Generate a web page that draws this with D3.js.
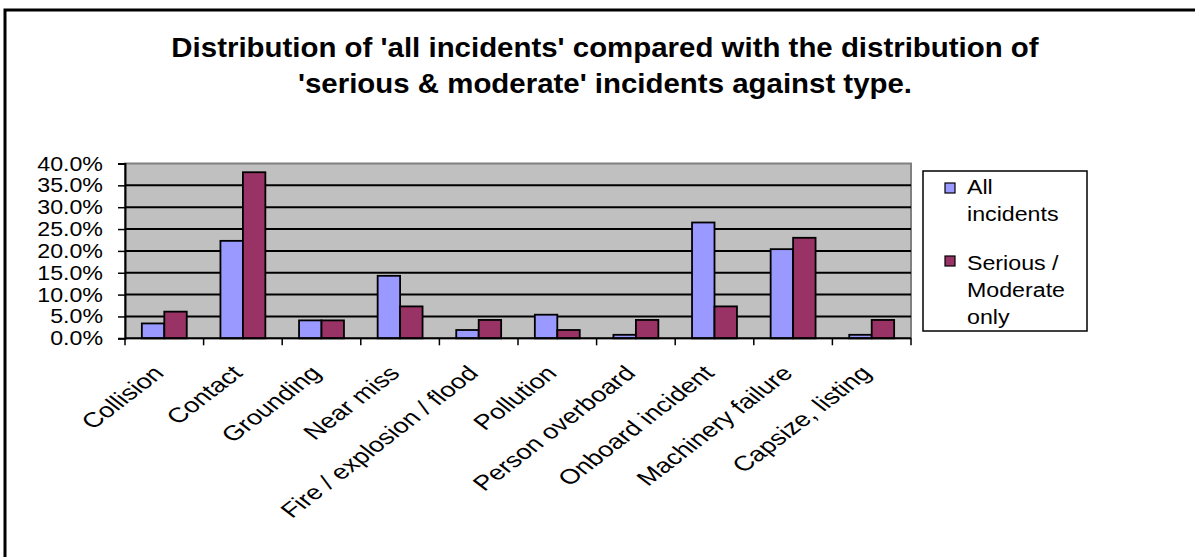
<!DOCTYPE html>
<html>
<head>
<meta charset="utf-8">
<script src="https://cdn.jsdelivr.net/npm/d3@7"></script>
<style>
  html, body { margin: 0; padding: 0; background: #fff; overflow: hidden; }
  text { font-family: "Liberation Sans", Arial, sans-serif; fill: #000; }
</style>
</head>
<body>
<svg id="chart" width="1195" height="557"></svg>
<script>
// ---- data ----
const categories = ["Collision", "Contact", "Grounding", "Near miss", "Fire / explosion / flood",
  "Pollution", "Person overboard", "Onboard incident", "Machinery failure", "Capsize, listing"];
const seriesNames = ["All incidents", "Serious / Moderate only"];
const allIncidents = [3.4, 22.3, 4.1, 14.3, 1.9, 5.4, 0.8, 26.5, 20.4, 0.8];
const seriousModerate = [6.1, 38.0, 4.1, 7.3, 4.2, 1.9, 4.2, 7.3, 23.0, 4.2];
const yTicks = [0, 5, 10, 15, 20, 25, 30, 35, 40];
const titleLines = ["Distribution of 'all incidents' compared with the distribution of",
  "'serious & moderate' incidents against type."];
const legendLines = [["All", "incidents"], ["Serious /", "Moderate", "only"]];
const colors = ["#9999FF", "#993366"];

// ---- layout ----
const svg = d3.select("#chart");
const plot = { left: 125, right: 911, top: 163.5, bottom: 338.3 };
const fmt = d => d3.format(".1f")(d) + "%";

// outer border
svg.append("rect").attr("x", 5).attr("y", 10).attr("width", 1300).attr("height", 700)
  .attr("fill", "none").attr("stroke", "#000").attr("stroke-width", 3);

// title
const tg = svg.append("g").attr("transform", "translate(605,0) scale(1.09,1)");
tg.selectAll("text").data(titleLines).join("text")
  .attr("x", 0).attr("y", (d, i) => 57 + i * 36.5)
  .attr("text-anchor", "middle").attr("font-weight", "bold").attr("font-size", 27)
  .text(d => d);

const x0 = d3.scaleBand().domain(categories).range([plot.left, plot.right]).paddingInner(0).paddingOuter(0);
const x1 = d3.scaleBand().domain(seriesNames).range([0, x0.bandwidth()]).paddingInner(0).paddingOuter(0.75);
const y = d3.scaleLinear().domain([0, 40]).range([plot.bottom, plot.top]);

// plot background
svg.append("rect").attr("x", plot.left).attr("y", plot.top)
  .attr("width", plot.right - plot.left).attr("height", plot.bottom - plot.top)
  .attr("fill", "#C0C0C0").attr("stroke", "#808080").attr("stroke-width", 2);

// gridlines
svg.append("g").selectAll("line").data(yTicks.filter(t => t > 0 && t < 40)).join("line")
  .attr("x1", plot.left).attr("x2", plot.right)
  .attr("y1", d => y(d)).attr("y2", d => y(d))
  .attr("stroke", "#000").attr("stroke-width", 2);

// bars
const rows = categories.map((c, i) => ({ cat: c, vals: [allIncidents[i], seriousModerate[i]] }));
const cg = svg.append("g").selectAll("g").data(rows).join("g")
  .attr("transform", d => `translate(${x0(d.cat)},0)`);
cg.selectAll("rect").data(d => d.vals.map((v, j) => ({ name: seriesNames[j], v, j }))).join("rect")
  .attr("x", d => x1(d.name)).attr("width", x1.bandwidth())
  .attr("y", d => y(d.v)).attr("height", d => y(0) - y(d.v))
  .attr("fill", d => colors[d.j]).attr("stroke", "#000").attr("stroke-width", 1.8);

// y axis
const yAxis = d3.axisLeft(y).tickValues(yTicks).tickSize(7).tickFormat(fmt);
const ya = svg.append("g").attr("transform", `translate(${plot.left},0)`).call(yAxis);
ya.select(".domain").attr("stroke", "#000").attr("stroke-width", 2);
ya.selectAll(".tick line").attr("stroke", "#000").attr("stroke-width", 1.5);
ya.selectAll(".tick text").remove();
svg.append("g").selectAll("g").data(yTicks).join("g")
  .attr("transform", d => `translate(103,${y(d)}) scale(1.19,1)`)
  .append("text").attr("x", 0).attr("y", 0).attr("dy", "0.36em")
  .attr("text-anchor", "end").attr("font-size", 19.5).text(fmt);

// x axis
svg.append("line").attr("x1", plot.left).attr("x2", plot.right)
  .attr("y1", plot.bottom).attr("y2", plot.bottom).attr("stroke", "#000").attr("stroke-width", 2);
const edges = categories.map(c => x0(c)).concat([plot.right]);
svg.append("g").selectAll("line").data(edges).join("line")
  .attr("x1", d => d).attr("x2", d => d).attr("y1", plot.bottom).attr("y2", plot.bottom + 7)
  .attr("stroke", "#000").attr("stroke-width", 1.5);
svg.append("g").selectAll("text").data(categories).join("text")
  .attr("transform", d => `translate(${x0(d) + x0.bandwidth() / 2 + 1},374.5) scale(1.3,1) rotate(-45)`)
  .attr("text-anchor", "end").attr("font-size", 20.9).text(d => d);

// legend
svg.append("rect").attr("x", 923).attr("y", 171).attr("width", 164).attr("height", 160)
  .attr("fill", "#fff").attr("stroke", "#000").attr("stroke-width", 1.5);
const lg = svg.append("g").selectAll("g").data(seriesNames).join("g");
lg.append("rect").attr("x", 945).attr("y", (d, i) => 183 + i * 73).attr("width", 10).attr("height", 10)
  .attr("fill", (d, i) => colors[i]).attr("stroke", "#000").attr("stroke-width", 1.2);
lg.each(function (d, i) {
  d3.select(this).selectAll("g").data(legendLines[i]).join("g")
    .attr("transform", (t, k) => `translate(967,${194 + i * 76 + k * 27}) scale(1.19,1)`)
    .append("text").attr("x", 0).attr("y", 0).attr("font-size", 19.5).text(t => t);
});
</script>
</body>
</html>
